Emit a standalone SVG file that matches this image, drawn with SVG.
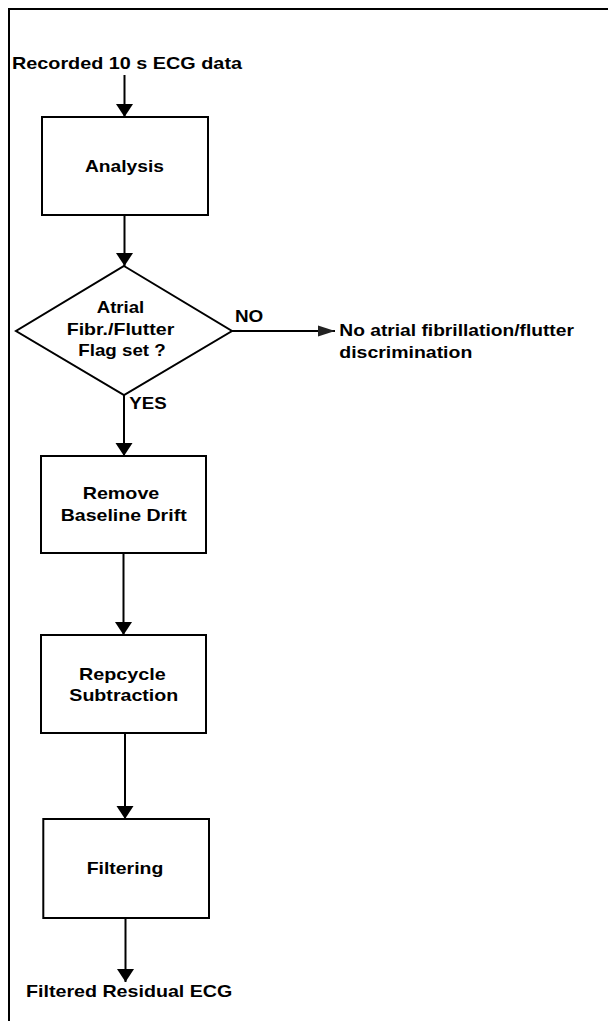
<svg xmlns="http://www.w3.org/2000/svg" width="608" height="1021" viewBox="0 0 608 1021">
<style>
text{font-family:"Liberation Sans",Arial,sans-serif;font-weight:bold;font-size:17px;fill:#000}
.box{fill:#fff;stroke:#000;stroke-width:2}
.ln{fill:none;stroke:#000;stroke-width:2}
</style>
<defs>
<marker id="ah" markerUnits="userSpaceOnUse" markerWidth="14" markerHeight="18" refX="13" refY="8.5" orient="auto" viewBox="0 0 14 17">
<path d="M0,0 L13,8.5 L0,17 z" fill="#000"/>
</marker>
<marker id="ah2" markerUnits="userSpaceOnUse" markerWidth="18" markerHeight="12" refX="17" refY="5.5" orient="auto" viewBox="0 0 18 11">
<path d="M0,0 L17,5.5 L0,11 z" fill="#222"/>
</marker>
</defs>
<rect width="608" height="1021" fill="#fff"/>
<path class="ln" d="M9,1021 V9 H608"/>
<g id="connectors">
<line class="ln" x1="124.5" y1="75" x2="124.5" y2="117" marker-end="url(#ah)"/>
<line class="ln" x1="124.5" y1="215" x2="124.5" y2="266" marker-end="url(#ah)"/>
<line class="ln" x1="232" y1="331" x2="335" y2="331" marker-end="url(#ah2)"/>
<line class="ln" x1="124" y1="395" x2="124" y2="456" marker-end="url(#ah)"/>
<line class="ln" x1="123.5" y1="553" x2="123.5" y2="635" marker-end="url(#ah)"/>
<line class="ln" x1="125" y1="733" x2="125" y2="819" marker-end="url(#ah)"/>
<line class="ln" x1="125.5" y1="918" x2="125.5" y2="982" marker-end="url(#ah)"/>
<text x="235" y="321.5" textLength="28.3" lengthAdjust="spacingAndGlyphs">NO</text>
<text x="129.3" y="409.3" textLength="37.4" lengthAdjust="spacingAndGlyphs">YES</text>
</g>
<g id="start">
<text x="12" y="69" textLength="230" lengthAdjust="spacingAndGlyphs">Recorded 10 s ECG data</text>
</g>
<g id="analysis">
<rect class="box" x="42" y="117" width="166" height="98"/>
<text x="85" y="172" textLength="79" lengthAdjust="spacingAndGlyphs">Analysis</text>
</g>
<g id="decision">
<polygon class="box" points="124,266 232,331 124,395 16,331"/>
<text x="96.7" y="313.3" textLength="47.6" lengthAdjust="spacingAndGlyphs">Atrial</text>
<text x="66.7" y="335" textLength="107.6" lengthAdjust="spacingAndGlyphs">Fibr./Flutter</text>
<text x="78.3" y="356" textLength="87.4" lengthAdjust="spacingAndGlyphs">Flag set ?</text>
</g>
<g id="no-result">
<text x="339.3" y="335.7" textLength="234.6" lengthAdjust="spacingAndGlyphs">No atrial fibrillation/flutter</text>
<text x="339.3" y="358.3" textLength="133" lengthAdjust="spacingAndGlyphs">discrimination</text>
</g>
<g id="baseline">
<rect class="box" x="41" y="456" width="165" height="97"/>
<text x="82.7" y="499.3" textLength="76.6" lengthAdjust="spacingAndGlyphs">Remove</text>
<text x="60.7" y="521" textLength="126" lengthAdjust="spacingAndGlyphs">Baseline Drift</text>
</g>
<g id="repcycle">
<rect class="box" x="41" y="635" width="165" height="98"/>
<text x="79" y="680" textLength="86.7" lengthAdjust="spacingAndGlyphs">Repcycle</text>
<text x="69.3" y="700.7" textLength="109" lengthAdjust="spacingAndGlyphs">Subtraction</text>
</g>
<g id="filtering">
<rect class="box" x="43.3" y="819" width="165.7" height="99"/>
<text x="86.7" y="874.3" textLength="76.6" lengthAdjust="spacingAndGlyphs">Filtering</text>
</g>
<g id="end">
<text x="26" y="996.7" textLength="206.3" lengthAdjust="spacingAndGlyphs">Filtered Residual ECG</text>
</g>
</svg>
